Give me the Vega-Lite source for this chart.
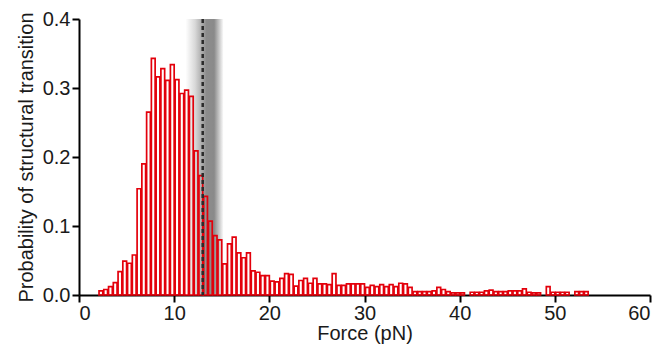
{
  "$schema": "https://vega.github.io/schema/vega-lite/v6.json",
  "width": 571,
  "height": 276,
  "autosize": "none",
  "padding": {"left": 79, "top": 19, "right": 13, "bottom": 50},
  "background": "white",
  "config": {
    "view": {"stroke": null},
    "axis": {
      "grid": false,
      "domainColor": "#000000",
      "domainWidth": 2,
      "tickColor": "#000000",
      "tickWidth": 2,
      "tickSize": 7,
      "labelFont": "Liberation Sans",
      "labelFontSize": 20,
      "labelColor": "#1a1a1a",
      "titleFont": "Liberation Sans",
      "titleFontSize": 20,
      "titleFontWeight": "normal",
      "titleColor": "#1a1a1a"
    }
  },
  "datasets": {
    "bars": [
      {"start": 2.0, "p": 0.006}, {"start": 2.5, "p": 0.008}, {"start": 3.0, "p": 0.012}, {"start": 3.5, "p": 0.018},
      {"start": 4.0, "p": 0.034}, {"start": 4.5, "p": 0.049}, {"start": 5.0, "p": 0.046}, {"start": 5.5, "p": 0.058},
      {"start": 6.0, "p": 0.154}, {"start": 6.5, "p": 0.190}, {"start": 7.0, "p": 0.265}, {"start": 7.5, "p": 0.343},
      {"start": 8.0, "p": 0.316}, {"start": 8.5, "p": 0.328}, {"start": 9.0, "p": 0.311}, {"start": 9.5, "p": 0.334},
      {"start": 10.0, "p": 0.312}, {"start": 10.5, "p": 0.292}, {"start": 11.0, "p": 0.297}, {"start": 11.5, "p": 0.288},
      {"start": 12.0, "p": 0.209}, {"start": 12.5, "p": 0.173}, {"start": 13.0, "p": 0.143}, {"start": 13.5, "p": 0.107},
      {"start": 14.0, "p": 0.086}, {"start": 14.5, "p": 0.080}, {"start": 15.0, "p": 0.045}, {"start": 15.5, "p": 0.074},
      {"start": 16.0, "p": 0.084}, {"start": 16.5, "p": 0.061}, {"start": 17.0, "p": 0.054}, {"start": 17.5, "p": 0.061},
      {"start": 18.0, "p": 0.035}, {"start": 18.5, "p": 0.033}, {"start": 19.0, "p": 0.028}, {"start": 19.5, "p": 0.028},
      {"start": 20.0, "p": 0.020}, {"start": 20.5, "p": 0.019}, {"start": 21.0, "p": 0.024}, {"start": 21.5, "p": 0.031},
      {"start": 22.0, "p": 0.030}, {"start": 22.5, "p": 0.013}, {"start": 23.0, "p": 0.021}, {"start": 23.5, "p": 0.024},
      {"start": 24.0, "p": 0.017}, {"start": 24.5, "p": 0.024}, {"start": 25.0, "p": 0.016}, {"start": 25.5, "p": 0.016},
      {"start": 26.0, "p": 0.015}, {"start": 26.5, "p": 0.031}, {"start": 27.0, "p": 0.014}, {"start": 27.5, "p": 0.014},
      {"start": 28.0, "p": 0.016}, {"start": 28.5, "p": 0.016}, {"start": 29.0, "p": 0.016}, {"start": 29.5, "p": 0.016},
      {"start": 30.0, "p": 0.011}, {"start": 30.5, "p": 0.014}, {"start": 31.0, "p": 0.012}, {"start": 31.5, "p": 0.015},
      {"start": 32.0, "p": 0.012}, {"start": 32.5, "p": 0.015}, {"start": 33.0, "p": 0.012}, {"start": 33.5, "p": 0.017},
      {"start": 34.0, "p": 0.016}, {"start": 34.5, "p": 0.011}, {"start": 35.0, "p": 0.005}, {"start": 35.5, "p": 0.005},
      {"start": 36.0, "p": 0.005}, {"start": 36.5, "p": 0.005}, {"start": 37.0, "p": 0.006}, {"start": 37.5, "p": 0.011},
      {"start": 38.0, "p": 0.008}, {"start": 38.5, "p": 0.005}, {"start": 39.0, "p": 0.003}, {"start": 39.5, "p": 0.003},
      {"start": 40.0, "p": 0.003}, {"start": 41.0, "p": 0.004}, {"start": 41.5, "p": 0.004}, {"start": 42.0, "p": 0.004},
      {"start": 42.5, "p": 0.006}, {"start": 43.0, "p": 0.007}, {"start": 43.5, "p": 0.005}, {"start": 44.0, "p": 0.005},
      {"start": 44.5, "p": 0.005}, {"start": 45.0, "p": 0.006}, {"start": 45.5, "p": 0.006}, {"start": 46.0, "p": 0.006},
      {"start": 46.5, "p": 0.009}, {"start": 47.0, "p": 0.004}, {"start": 47.5, "p": 0.003}, {"start": 48.0, "p": 0.003},
      {"start": 49.0, "p": 0.012}, {"start": 49.5, "p": 0.004}, {"start": 50.0, "p": 0.004}, {"start": 50.5, "p": 0.004},
      {"start": 51.0, "p": 0.004}, {"start": 52.0, "p": 0.005}, {"start": 52.5, "p": 0.005}, {"start": 53.0, "p": 0.005}
    ]
  },
  "layer": [
    {
      "data": {"values": [{"lo": 11.2, "hi": 15.2}]},
      "mark": {
        "type": "rect",
        "fill": {
          "gradient": "linear",
          "x1": 0, "y1": 0, "x2": 1, "y2": 0,
          "stops": [
            {"offset": 0, "color": "#ffffff"},
            {"offset": 0.25, "color": "#d8d8d8"},
            {"offset": 0.55, "color": "#8c8c8c"},
            {"offset": 0.75, "color": "#8a8a8a"},
            {"offset": 1, "color": "#ffffff"}
          ]
        }
      },
      "encoding": {
        "x": {"field": "lo", "type": "quantitative", "scale": {"domain": [0, 60], "nice": false}},
        "x2": {"field": "hi"}
      }
    },
    {
      "data": {"name": "bars"},
      "transform": [{"calculate": "datum.start + 0.5", "as": "end"}],
      "mark": {"type": "bar", "fill": "transparent", "stroke": "#e3000b", "strokeWidth": 1.7},
      "encoding": {
        "x": {
          "field": "start", "type": "quantitative", "bin": "binned",
          "scale": {"domain": [0, 60], "nice": false},
          "axis": {"values": [0, 10, 20, 30, 40, 50, 60], "title": "Force (pN)", "titlePadding": 0, "labelPadding": 1}
        },
        "x2": {"field": "end"},
        "y": {
          "field": "p", "type": "quantitative",
          "scale": {"domain": [0, 0.4], "nice": false},
          "axis": {"values": [0, 0.1, 0.2, 0.3, 0.4], "format": ".1f", "title": "Probability of structural transition", "titlePadding": 6, "labelPadding": 2}
        }
      }
    },
    {
      "data": {"values": [{"force": 13}]},
      "mark": {"type": "rule", "color": "#2a2a2a", "strokeWidth": 2.5, "strokeDash": [4, 3]},
      "encoding": {
        "x": {"field": "force", "type": "quantitative"}
      }
    }
  ]
}
